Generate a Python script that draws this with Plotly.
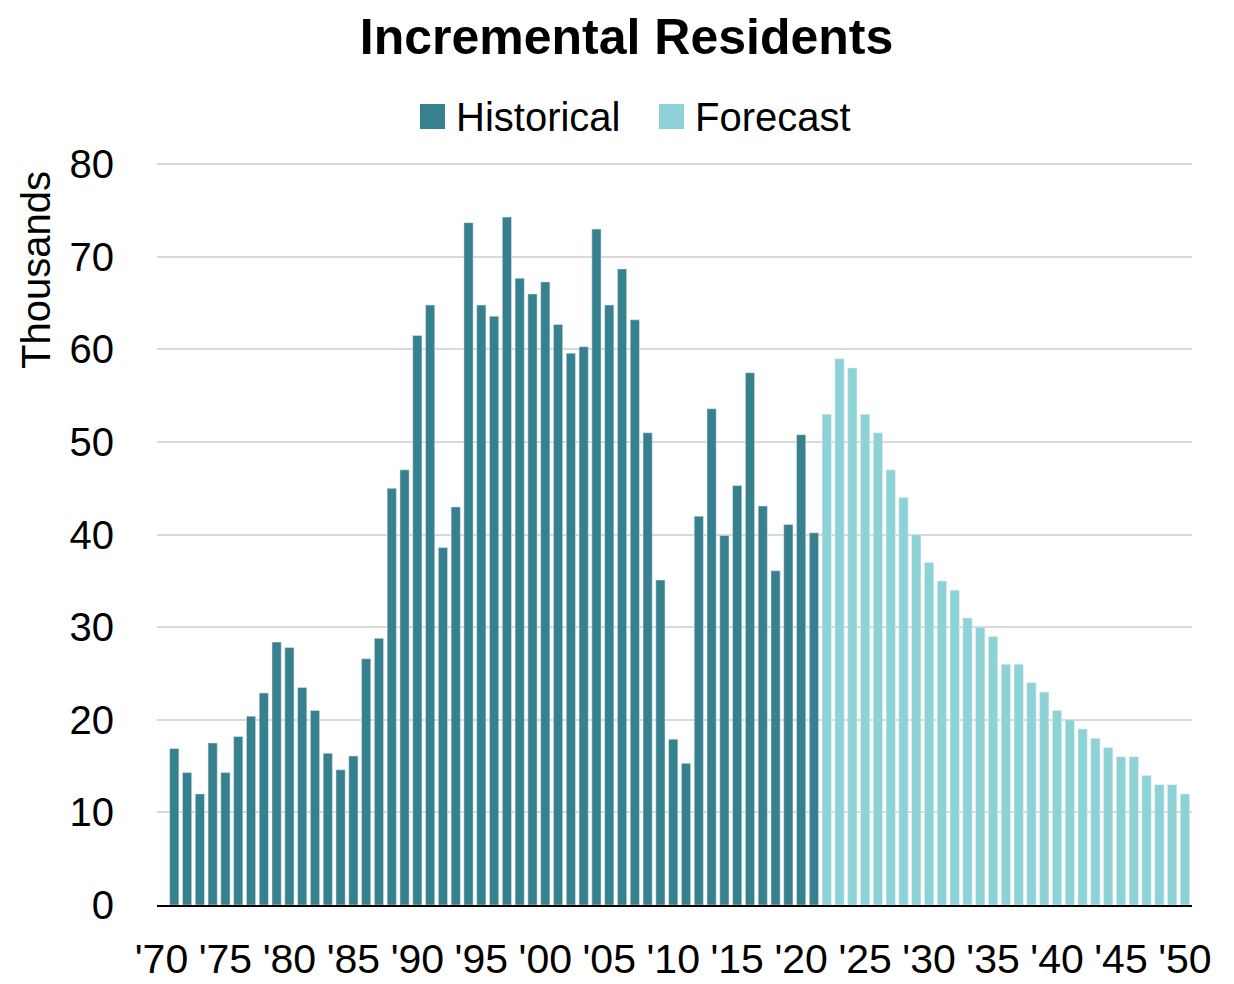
import plotly.graph_objects as go

hist_years = list(range(1971, 2022))
hist_values = [16.9, 14.3, 12.0, 17.5, 14.3, 18.2, 20.4, 22.9, 28.4, 27.8,
               23.5, 21.0, 16.4, 14.6, 16.1, 26.6, 28.8, 45.0, 47.0, 61.5,
               64.8, 38.6, 43.0, 73.7, 64.8, 63.6, 74.3, 67.7, 66.0, 67.3,
               62.7, 59.6, 60.3, 73.0, 64.8, 68.7, 63.2, 51.0, 35.1, 17.9,
               15.3, 42.0, 53.6, 39.9, 45.3, 57.5, 43.1, 36.1, 41.1, 50.8,
               40.2]
fc_years = list(range(2022, 2051))
fc_values = [53, 59, 58, 53, 51, 47, 44, 40, 37, 35, 34, 31, 30, 29, 26, 26,
             24, 23, 21, 20, 19, 18, 17, 16, 16, 14, 13, 13, 12]
tick_years = list(range(1970, 2051, 5))
tick_labels = ["'" + str(y)[2:] for y in tick_years]
series_names = ["Historical", "Forecast"]

HIST_COLOR = "#37818F"
FC_COLOR = "#8DD2D7"
FONT = "Liberation Sans, Arial, sans-serif"

OFF = 8  # default page body margin
W, H = 1234 - OFF, 984 - OFF
# target plot area in page pixels: x 157..1192, y 162..905
ML, MT = 157 - OFF, 162 - OFF
MR = W - (1192 - OFF)
MB = H - (905 - OFF)
PW, PH = W - ML - MR, H - MT - MB


def px_x(px):
    return (px - OFF - ML) / PW


def px_y(py):
    return (OFF + MT + PH - py) / PH


fig = go.Figure()
fig.add_trace(go.Bar(x=hist_years, y=hist_values, name=series_names[0],
                     marker_color=HIST_COLOR, width=0.72, showlegend=False))
fig.add_trace(go.Bar(x=fc_years, y=fc_values, name=series_names[1],
                     marker_color=FC_COLOR, width=0.72, showlegend=False))

# manual legend (swatches + labels)
legend_items = [(series_names[0], HIST_COLOR, 420, 454),
                (series_names[1], FC_COLOR, 659, 693)]
shapes = []
annotations = []
for name, col, sx, tx in legend_items:
    shapes.append(dict(type="rect", xref="paper", yref="paper",
                       x0=px_x(sx), x1=px_x(sx + 25), y0=px_y(129), y1=px_y(104),
                       fillcolor=col, line=dict(width=0)))
    annotations.append(dict(text=name, xref="paper", yref="paper",
                            x=px_x(tx), y=px_y(117), xanchor="left",
                            yanchor="middle", showarrow=False,
                            font=dict(size=40, family=FONT, color="black")))
# y-axis title (placed near the top, as in the reference)
annotations.append(dict(text="Thousands", xref="paper", yref="paper",
                        x=px_x(36), y=px_y(270), xanchor="center",
                        yanchor="middle", textangle=-90, showarrow=False,
                        font=dict(size=40, family=FONT, color="black")))

fig.update_layout(
    width=W, height=H,
    margin=dict(l=ML, r=MR, t=MT, b=MB, autoexpand=False),
    paper_bgcolor="white", plot_bgcolor="white",
    barmode="overlay", showlegend=False,
    font=dict(family=FONT, color="black", size=40),
    title=dict(text="<b>Incremental Residents</b>", x=0.5045, xanchor="center",
               y=0.971, yanchor="middle", font=dict(size=50, family=FONT)),
    shapes=shapes, annotations=annotations,
    xaxis=dict(range=[1969.65, 2050.55], tickmode="array", tickvals=tick_years,
               ticktext=tick_labels, showgrid=False, showline=True,
               linecolor="black", linewidth=2, ticks="", zeroline=False,
               tickfont=dict(size=41), ticklabelstandoff=17, automargin=False),
    yaxis=dict(range=[0, 80.25], tickvals=list(range(0, 81, 10)), showgrid=True,
               gridcolor="#D9D9D9", gridwidth=2, zeroline=False, showline=False,
               ticks="", tickfont=dict(size=40), ticklabelstandoff=42,
               automargin=False),
)

fig.write_html("out.html")
